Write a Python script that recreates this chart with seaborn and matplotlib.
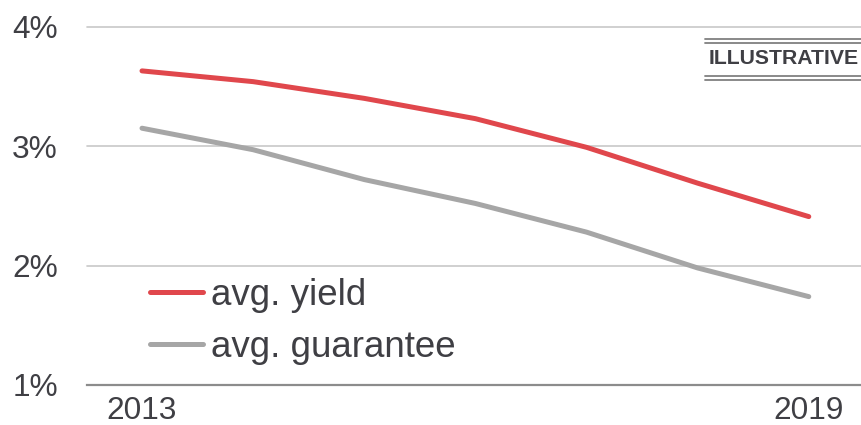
import matplotlib
matplotlib.use("Agg")
import matplotlib.pyplot as plt
from matplotlib.lines import Line2D
import pandas as pd
import seaborn as sns

years = [2013, 2014, 2015, 2016, 2017, 2018, 2019]
avg_yield = [3.63, 3.54, 3.40, 3.23, 2.99, 2.69, 2.41]
avg_guarantee = [3.15, 2.97, 2.72, 2.52, 2.28, 1.98, 1.74]
series_names = ["avg. yield", "avg. guarantee"]
y_ticks = [1, 2, 3, 4]
y_labels = ["1%", "2%", "3%", "4%"]
x_ticks = [2013, 2019]
badge_text = "ILLUSTRATIVE"

df = pd.DataFrame({
    "year": years * 2,
    "value": avg_yield + avg_guarantee,
    "series": [series_names[0]] * len(years) + [series_names[1]] * len(years),
})

sns.set_theme(style="white")
plt.rcParams["font.family"] = ["Liberation Sans", "DejaVu Sans"]

text_color = "#3f3f44"
palette = {series_names[0]: "#E0474C", series_names[1]: "#A6A6A6"}

fig = plt.figure(figsize=(8.61, 4.25), dpi=100)
ax = fig.add_axes([87 / 861, 40 / 425, 1 - 87 / 861, (385 - 26.7) / 425])

sns.lineplot(data=df, x="year", y="value", hue="series", palette=palette,
             linewidth=3.6, ax=ax, legend=False)
for ln in ax.get_lines():
    ln.set_solid_capstyle("round")
    ln.set_solid_joinstyle("round")

ax.set_xlim(2012.505, 2019.47)
ax.set_ylim(1, 4)
ax.set_yticks(y_ticks)
ax.set_yticklabels(y_labels)
ax.set_xticks(x_ticks)
ax.set_xticklabels([str(x) for x in x_ticks])
ax.tick_params(axis="y", length=0, pad=21, labelsize=22.8, labelcolor=text_color)
ax.tick_params(axis="x", length=0, pad=8, labelsize=22.8, labelcolor=text_color)
ax.set_xlabel("")
ax.set_ylabel("")

for s in ["top", "right", "left"]:
    ax.spines[s].set_visible(False)
ax.spines["bottom"].set_color("#8c8c8c")
ax.spines["bottom"].set_linewidth(1.6)
ax.spines["bottom"].set_zorder(0)

for v in y_ticks[1:]:
    ax.axhline(v, color="#c8c8c8", linewidth=1.2, zorder=0, clip_on=False)

handles = [Line2D([0], [0], color=palette[n], linewidth=3.6, solid_capstyle="round")
           for n in series_names]
leg = ax.legend(handles, series_names, loc="upper left",
                bbox_to_anchor=(150 / 861, (425 - 278) / 425),
                bbox_transform=fig.transFigure, frameon=False,
                fontsize=26.5, handlelength=1.45, handletextpad=0.2,
                labelspacing=0.47, borderpad=0, borderaxespad=0)
for t in leg.get_texts():
    t.set_color(text_color)

# badge at top right with double rules above and below
fig.text(783.5 / 861, (425 - 58.5) / 425, badge_text, ha="center", va="center",
         fontsize=15.3, fontweight="bold", color=text_color)
for yy in [39.2, 43, 76, 80]:
    fig.add_artist(Line2D([705 / 861, 1.0], [(425 - yy) / 425] * 2,
                          transform=fig.transFigure, color="#808080", linewidth=1.3))

fig.savefig("out.png", dpi=100)
